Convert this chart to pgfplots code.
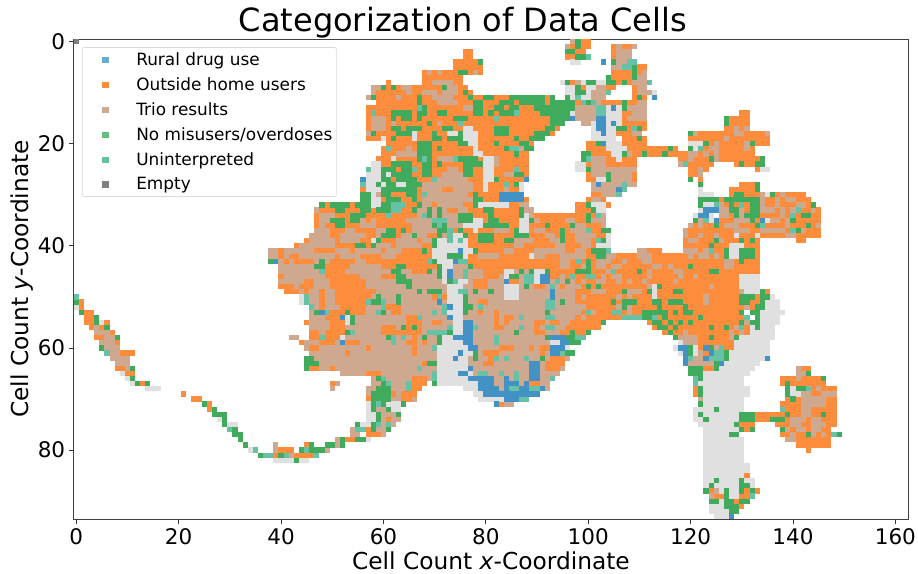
\documentclass[border=0pt]{standalone}
\usepackage{pgfplots}
\usepackage{fontspec}
\setmainfont{DejaVu Sans}
\pgfplotsset{compat=1.18}
\definecolor{cblue}{HTML}{4292C6}
\definecolor{corange}{HTML}{FD8D3C}
\definecolor{ctan}{HTML}{CFA98F}
\definecolor{cgreen}{HTML}{41AB5D}
\definecolor{cteal}{HTML}{66C2A4}
\definecolor{cgray}{HTML}{E0E0E0}
\definecolor{cdark}{HTML}{808080}
% each entry: row, first cell, last cell of a run, category
% 0 gray, 1 blue, 2 orange, 3 tan, 4 green, 5 teal, 6 dark, 7 tan underlay
\def\cells{%
0 0 0 6\\ 0 97 100 2\\ 0 97 97 3\\ 0 98 98 4\\
1 96 100 2\\ 1 96 96 3\\ 1 98 98 4\\ 1 105 108 2\\ 1 106 106 3\\ 1 109 109 3\\
2 96 99 2\\ 2 96 97 4\\ 2 76 77 2\\ 2 105 105 2\\ 2 106 108 3\\
3 96 100 2\\ 3 98 99 4\\ 3 100 100 5\\ 3 76 77 2\\ 3 105 105 2\\ 3 106 108 3\\
4 97 98 0\\ 4 74 79 2\\ 4 79 79 4\\ 4 103 103 1\\ 4 105 105 4\\ 4 106 107 3\\ 4 108 109 5\\
5 74 79 2\\ 5 105 106 3\\ 5 107 108 5\\ 5 109 109 4\\ 5 110 111 2\\
6 68 79 2\\ 6 69 69 3\\ 6 71 71 3\\ 6 78 78 3\\ 6 75 76 4\\ 6 105 108 2\\ 6 109 109 4\\ 6 110 110 2\\ 6 111 111 3\\
7 68 75 2\\ 7 104 104 4\\ 7 105 108 2\\ 7 109 109 4\\ 7 110 111 3\\
8 68 75 2\\ 8 70 73 3\\ 8 61 61 2\\ 8 95 95 0\\ 8 96 96 4\\ 8 97 97 2\\ 8 98 98 3\\ 8 99 99 0\\ 8 100 101 4\\ 8 102 103 0\\ 8 104 105 4\\ 8 106 108 2\\ 8 107 107 4\\ 8 109 111 3\\ 8 112 112 5\\
9 58 76 2\\ 9 58 59 3\\ 9 60 60 4\\ 9 62 62 4\\ 9 64 65 3\\ 9 72 72 4\\ 9 73 74 3\\ 9 96 98 0\\ 9 98 98 4\\ 9 99 99 2\\ 9 100 101 0\\ 9 102 103 3\\ 9 104 105 2\\ 9 109 109 2\\ 9 110 111 3\\
10 58 77 2\\ 10 58 58 3\\ 10 65 65 3\\ 10 68 70 3\\ 10 72 74 3\\ 10 76 76 4\\ 10 96 97 0\\ 10 98 99 4\\ 10 100 100 0\\ 10 101 103 3\\ 10 104 104 5\\ 10 109 109 2\\ 10 110 112 3\\ 10 113 113 0\\
11 57 93 2\\ 11 57 57 3\\ 11 58 58 4\\ 11 63 63 3\\ 11 67 67 4\\ 11 70 73 3\\ 11 77 77 4\\ 11 80 81 4\\ 11 85 91 4\\ 11 93 93 4\\ 11 96 97 0\\ 11 96 96 4\\ 11 98 98 5\\ 11 99 100 0\\ 11 101 103 3\\ 11 109 110 2\\ 11 110 110 4\\ 11 111 111 2\\ 11 113 113 1\\
12 59 96 2\\ 12 67 67 4\\ 12 71 74 3\\ 12 78 79 4\\ 12 83 85 4\\ 12 87 91 4\\ 12 93 95 4\\ 12 96 97 4\\ 12 98 99 2\\ 12 99 99 5\\ 12 100 100 4\\ 12 101 101 5\\ 12 102 102 3\\ 12 103 111 2\\ 12 107 107 4\\ 12 110 111 3\\
13 57 97 2\\ 13 67 67 5\\ 13 68 68 4\\ 13 76 77 3\\ 13 78 79 4\\ 13 82 83 4\\ 13 85 86 4\\ 13 90 92 4\\ 13 93 97 4\\ 13 98 101 3\\ 13 102 103 5\\ 13 104 105 0\\ 13 105 105 1\\ 13 106 106 0\\ 13 107 107 4\\ 13 108 111 3\\
14 57 96 2\\ 14 58 58 5\\ 14 62 65 4\\ 14 67 68 4\\ 14 71 72 4\\ 14 78 79 4\\ 14 81 81 4\\ 14 83 86 4\\ 14 86 86 5\\ 14 91 96 4\\ 14 97 97 0\\ 14 98 101 3\\ 14 102 103 5\\ 14 104 106 0\\ 14 107 108 2\\ 14 109 111 3\\ 14 130 131 2\\
15 57 96 2\\ 15 58 60 3\\ 15 62 62 4\\ 15 64 65 4\\ 15 67 67 4\\ 15 74 76 4\\ 15 82 82 5\\ 15 93 96 4\\ 15 97 97 1\\ 15 98 101 3\\ 15 102 103 1\\ 15 104 106 0\\ 15 107 107 2\\ 15 108 111 3\\ 15 127 131 2\\ 15 127 127 4\\
16 57 95 2\\ 16 58 60 3\\ 16 62 62 3\\ 16 69 69 4\\ 16 71 71 3\\ 16 75 75 5\\ 16 93 95 4\\ 16 99 100 3\\ 16 101 101 0\\ 16 102 103 1\\ 16 104 104 0\\ 16 105 105 1\\ 16 106 106 0\\ 16 107 111 2\\ 16 127 131 2\\ 16 127 127 4\\
17 57 94 2\\ 17 58 60 3\\ 17 62 63 4\\ 17 65 67 4\\ 17 72 73 4\\ 17 76 77 0\\ 17 82 84 4\\ 17 92 93 4\\ 17 101 101 0\\ 17 102 103 1\\ 17 104 105 0\\ 17 106 107 4\\ 17 108 111 2\\ 17 109 109 5\\ 17 110 110 4\\ 17 127 131 2\\ 17 129 129 3\\ 17 131 131 3\\
18 57 93 2\\ 18 57 57 3\\ 18 58 58 4\\ 18 63 65 4\\ 18 66 66 0\\ 18 70 70 4\\ 18 73 74 0\\ 18 75 75 4\\ 18 76 78 0\\ 18 82 84 4\\ 18 90 92 4\\ 18 101 102 0\\ 18 103 103 1\\ 18 104 105 0\\ 18 106 110 2\\ 18 109 110 3\\ 18 120 135 2\\ 18 120 120 4\\ 18 121 121 3\\ 18 129 130 3\\ 18 135 135 3\\
19 57 90 2\\ 19 60 60 0\\ 19 62 62 4\\ 19 66 66 0\\ 19 70 71 4\\ 19 73 75 4\\ 19 76 78 0\\ 19 86 86 4\\ 19 89 91 4\\ 19 101 102 0\\ 19 103 105 0\\ 19 107 111 2\\ 19 110 110 4\\ 19 120 135 2\\ 19 127 127 3\\
20 61 89 2\\ 20 67 69 4\\ 20 75 76 4\\ 20 77 78 0\\ 20 82 82 4\\ 20 87 88 4\\ 20 100 101 2\\ 20 102 102 4\\ 20 103 103 1\\ 20 104 106 0\\ 20 107 111 2\\ 20 120 122 0\\ 20 123 135 2\\ 20 123 123 4\\ 20 125 125 3\\ 20 131 131 3\\ 20 132 132 4\\
21 60 88 2\\ 21 61 61 5\\ 21 65 65 3\\ 21 67 69 4\\ 21 71 71 4\\ 21 78 78 0\\ 21 84 84 4\\ 21 85 86 5\\ 21 87 87 3\\ 21 88 89 4\\ 21 100 103 2\\ 21 104 107 0\\ 21 108 117 2\\ 21 116 116 4\\ 21 120 120 4\\ 21 121 121 0\\ 21 122 122 5\\ 21 123 132 2\\ 21 124 125 3\\ 21 131 131 3\\
22 60 88 2\\ 22 63 66 3\\ 22 67 69 4\\ 22 78 79 0\\ 22 86 86 4\\ 22 99 100 4\\ 22 101 104 2\\ 22 105 106 0\\ 22 107 107 4\\ 22 108 108 3\\ 22 109 119 2\\ 22 111 111 4\\ 22 115 115 4\\ 22 120 121 3\\ 22 122 132 2\\ 22 123 123 3\\ 22 125 125 3\\
23 59 88 2\\ 23 62 62 0\\ 23 67 67 4\\ 23 68 68 5\\ 23 69 69 4\\ 23 71 73 3\\ 23 74 74 5\\ 23 75 78 4\\ 23 80 81 0\\ 23 82 82 3\\ 23 99 99 4\\ 23 100 100 5\\ 23 101 103 3\\ 23 104 105 2\\ 23 106 106 0\\ 23 107 109 2\\ 23 118 119 2\\ 23 120 120 3\\ 23 121 134 2\\ 23 124 124 4\\ 23 125 125 3\\ 23 134 134 4\\
24 58 88 2\\ 24 58 59 0\\ 24 62 65 4\\ 24 68 69 4\\ 24 71 71 4\\ 24 76 79 4\\ 24 80 81 0\\ 24 82 82 3\\ 24 98 99 0\\ 24 100 100 2\\ 24 101 103 3\\ 24 104 109 2\\ 24 118 118 3\\ 24 119 119 5\\ 24 120 124 2\\ 24 129 134 2\\ 24 130 130 4\\ 24 133 134 4\\
25 57 88 2\\ 25 57 57 5\\ 25 58 59 0\\ 25 60 62 4\\ 25 64 66 4\\ 25 66 66 5\\ 25 68 69 4\\ 25 73 74 3\\ 25 76 77 4\\ 25 80 81 0\\ 25 86 86 5\\ 25 98 99 0\\ 25 100 100 4\\ 25 101 109 3\\ 25 120 123 2\\ 25 122 122 3\\ 25 133 133 2\\ 25 134 135 0\\
26 57 88 2\\ 26 57 59 0\\ 26 60 60 4\\ 26 61 61 0\\ 26 62 65 4\\ 26 68 69 4\\ 26 72 75 3\\ 26 76 77 4\\ 26 80 81 0\\ 26 84 85 3\\ 26 86 87 4\\ 26 100 109 2\\ 26 101 103 3\\ 26 104 104 4\\ 26 105 108 3\\ 26 120 122 2\\ 26 122 122 3\\
27 56 56 1\\ 27 57 59 0\\ 27 60 88 2\\ 27 60 61 4\\ 27 63 66 4\\ 27 70 70 5\\ 27 71 76 3\\ 27 80 81 0\\ 27 82 82 4\\ 27 88 88 1\\ 27 100 109 2\\ 27 102 104 0\\ 27 104 104 4\\ 27 105 108 3\\ 27 120 120 4\\ 27 122 122 2\\
28 56 56 5\\ 28 57 58 0\\ 28 59 87 2\\ 28 59 59 4\\ 28 60 60 0\\ 28 61 62 4\\ 28 63 64 0\\ 28 65 67 4\\ 28 68 77 3\\ 28 80 80 0\\ 28 84 84 5\\ 28 86 86 4\\ 28 87 87 0\\ 28 101 109 3\\ 28 102 102 1\\ 28 103 106 0\\ 28 107 107 5\\ 28 122 122 4\\ 28 130 133 2\\ 28 133 133 4\\
29 56 87 2\\ 29 57 59 0\\ 29 60 66 4\\ 29 68 71 3\\ 29 74 77 3\\ 29 80 80 0\\ 29 84 84 3\\ 29 87 87 0\\ 29 101 105 3\\ 29 104 105 0\\ 29 106 106 1\\ 29 107 107 5\\ 29 122 122 0\\ 29 128 133 2\\ 29 133 133 4\\
30 56 87 2\\ 30 56 57 4\\ 30 58 58 0\\ 30 59 59 3\\ 30 60 61 4\\ 30 65 66 4\\ 30 68 68 5\\ 30 69 76 3\\ 30 78 78 4\\ 30 83 87 1\\ 30 101 105 2\\ 30 103 105 3\\ 30 106 106 5\\ 30 122 124 0\\ 30 128 142 2\\ 30 129 130 4\\ 30 134 134 3\\ 30 135 135 0\\ 30 136 136 4\\ 30 138 138 3\\
31 56 88 2\\ 31 56 57 4\\ 31 58 59 0\\ 31 61 63 4\\ 31 66 66 4\\ 31 68 77 3\\ 31 78 79 4\\ 31 83 87 1\\ 31 100 103 2\\ 31 101 102 3\\ 31 122 125 4\\ 31 126 143 2\\ 31 127 133 4\\ 31 134 134 3\\ 31 137 137 3\\ 31 139 140 3\\
32 48 88 2\\ 32 48 48 4\\ 32 50 53 4\\ 32 55 57 4\\ 32 58 59 0\\ 32 60 61 4\\ 32 62 64 5\\ 32 67 67 4\\ 32 68 69 3\\ 32 71 75 3\\ 32 78 78 4\\ 32 79 82 0\\ 32 83 84 0\\ 32 87 88 3\\ 32 98 104 2\\ 32 100 100 4\\ 32 101 103 0\\ 32 122 122 4\\ 32 123 124 0\\ 32 125 125 5\\ 32 126 126 3\\ 32 127 144 2\\ 32 128 128 4\\ 32 130 130 5\\ 32 132 133 4\\ 32 134 134 3\\ 32 137 137 3\\ 32 141 142 3\\ 32 144 144 4\\
33 47 89 2\\ 33 47 47 3\\ 33 51 52 4\\ 33 56 57 4\\ 33 59 61 4\\ 33 62 63 5\\ 33 66 66 4\\ 33 67 68 3\\ 33 69 69 4\\ 33 70 70 3\\ 33 71 71 4\\ 33 72 72 3\\ 33 75 76 3\\ 33 80 81 4\\ 33 87 87 4\\ 33 87 88 0\\ 33 88 89 3\\ 33 98 103 2\\ 33 101 101 4\\ 33 102 103 0\\ 33 122 123 0\\ 33 123 125 1\\ 33 126 127 3\\ 33 128 145 2\\ 33 128 129 4\\ 33 130 130 3\\ 33 132 133 4\\ 33 134 136 3\\ 33 138 138 3\\ 33 140 140 3\\ 33 141 141 5\\ 33 144 144 3\\
34 47 103 2\\ 34 48 50 3\\ 34 54 56 4\\ 34 61 61 5\\ 34 67 68 3\\ 34 68 68 5\\ 34 69 69 4\\ 34 70 70 3\\ 34 71 71 4\\ 34 72 74 3\\ 34 75 77 4\\ 34 81 81 4\\ 34 87 87 4\\ 34 88 88 0\\ 34 89 89 3\\ 34 100 100 4\\ 34 102 102 5\\ 34 103 103 3\\ 34 121 122 0\\ 34 122 123 1\\ 34 124 124 0\\ 34 126 127 3\\ 34 128 145 2\\ 34 129 129 4\\ 34 130 130 3\\ 34 131 133 4\\ 34 138 138 3\\ 34 140 140 5\\ 34 142 143 4\\
35 47 103 2\\ 35 48 49 3\\ 35 50 52 4\\ 35 54 55 4\\ 35 56 56 3\\ 35 58 58 3\\ 35 65 69 3\\ 35 70 72 5\\ 35 73 74 3\\ 35 75 77 4\\ 35 78 79 0\\ 35 81 82 4\\ 35 87 88 0\\ 35 89 89 4\\ 35 90 90 3\\ 35 96 97 3\\ 35 100 100 4\\ 35 101 103 3\\ 35 121 121 4\\ 35 122 122 3\\ 35 123 123 5\\ 35 124 124 0\\ 35 125 125 1\\ 35 126 145 2\\ 35 129 131 3\\ 35 132 132 4\\ 35 134 134 1\\ 35 135 135 0\\ 35 136 137 3\\ 35 139 139 3\\ 35 140 140 4\\
36 47 103 2\\ 36 48 48 3\\ 36 51 52 4\\ 36 56 58 3\\ 36 66 69 3\\ 36 70 70 4\\ 36 71 71 5\\ 36 72 72 4\\ 36 73 75 3\\ 36 76 79 0\\ 36 80 84 4\\ 36 87 88 0\\ 36 92 92 4\\ 36 97 97 4\\ 36 98 99 3\\ 36 103 103 3\\ 36 120 120 3\\ 36 121 145 2\\ 36 122 122 3\\ 36 125 125 4\\ 36 127 127 3\\ 36 128 129 3\\ 36 133 133 4\\ 36 134 134 5\\ 36 139 139 3\\ 36 143 143 4\\ 36 145 145 3\\
37 47 104 2\\ 37 47 49 3\\ 37 53 54 3\\ 37 59 60 3\\ 37 61 62 4\\ 37 64 64 4\\ 37 66 70 3\\ 37 71 72 4\\ 37 73 73 5\\ 37 75 75 4\\ 37 78 78 0\\ 37 82 84 3\\ 37 86 86 4\\ 37 87 88 0\\ 37 90 91 3\\ 37 95 95 4\\ 37 97 99 3\\ 37 100 100 5\\ 37 103 104 4\\ 37 119 119 3\\ 37 120 145 2\\ 37 129 131 3\\ 37 134 138 3\\ 37 140 140 5\\ 37 141 141 4\\ 37 142 142 3\\
38 46 104 2\\ 38 46 49 3\\ 38 52 56 3\\ 38 59 59 3\\ 38 60 62 4\\ 38 64 65 3\\ 38 66 66 4\\ 38 67 68 3\\ 38 71 71 4\\ 38 72 72 3\\ 38 73 73 5\\ 38 74 75 0\\ 38 76 76 4\\ 38 79 81 4\\ 38 86 88 4\\ 38 92 93 3\\ 38 95 95 4\\ 38 98 101 3\\ 38 104 104 0\\ 38 119 119 3\\ 38 120 133 2\\ 38 122 122 3\\ 38 125 125 3\\ 38 129 129 0\\ 38 133 133 0\\ 38 134 145 2\\ 38 139 140 3\\
39 45 104 2\\ 39 46 50 3\\ 39 52 55 3\\ 39 58 58 0\\ 39 59 59 4\\ 39 63 66 3\\ 39 68 69 3\\ 39 70 70 4\\ 39 71 76 0\\ 39 73 73 5\\ 39 75 75 5\\ 39 79 81 4\\ 39 84 85 4\\ 39 86 89 3\\ 39 93 94 3\\ 39 95 95 4\\ 39 98 100 3\\ 39 102 102 5\\ 39 103 103 4\\ 39 104 104 0\\ 39 119 133 2\\ 39 120 121 3\\ 39 125 125 4\\ 39 126 126 3\\ 39 130 130 4\\ 39 132 132 4\\ 39 141 142 2\\
40 43 104 2\\ 40 44 50 3\\ 40 55 56 4\\ 40 58 58 4\\ 40 59 61 3\\ 40 63 67 3\\ 40 70 70 4\\ 40 71 76 0\\ 40 86 87 3\\ 40 94 95 3\\ 40 99 100 3\\ 40 102 104 0\\ 40 119 133 2\\ 40 124 124 4\\ 40 128 130 0\\
41 38 104 2\\ 41 38 39 3\\ 41 41 46 3\\ 41 51 53 3\\ 41 55 59 3\\ 41 61 63 3\\ 41 68 68 4\\ 41 70 74 0\\ 41 75 75 1\\ 41 76 77 0\\ 41 78 78 4\\ 41 84 85 3\\ 41 90 95 3\\ 41 98 99 3\\ 41 101 103 4\\ 41 104 104 5\\ 41 110 111 3\\ 41 112 114 2\\ 41 119 133 2\\ 41 119 121 3\\ 41 123 123 3\\ 41 124 124 5\\ 41 127 127 4\\ 41 128 129 0\\ 41 130 132 4\\
42 38 133 2\\ 42 38 39 3\\ 42 41 41 3\\ 42 44 50 3\\ 42 52 55 3\\ 42 60 62 3\\ 42 70 72 0\\ 42 73 75 4\\ 42 76 76 0\\ 42 79 82 3\\ 42 89 89 0\\ 42 90 91 3\\ 42 95 99 3\\ 42 102 103 4\\ 42 104 105 3\\ 42 110 112 3\\ 42 120 120 3\\ 42 122 123 3\\ 42 125 125 3\\ 42 127 127 4\\ 42 128 129 0\\ 42 130 132 4\\
43 38 38 4\\ 43 39 39 1\\ 43 40 133 7\\ 43 41 41 2\\ 43 43 46 2\\ 43 48 48 4\\ 43 50 54 2\\ 43 57 68 2\\ 43 69 69 5\\ 43 70 70 4\\ 43 71 73 0\\ 43 74 74 1\\ 43 75 76 5\\ 43 77 94 2\\ 43 95 96 3\\ 43 97 133 2\\ 43 98 98 5\\ 43 100 100 4\\ 43 102 104 3\\ 43 107 107 3\\ 43 111 112 3\\ 43 127 128 3\\ 43 130 130 4\\
44 40 133 7\\ 44 47 48 4\\ 44 49 53 2\\ 44 60 63 2\\ 44 63 64 4\\ 44 65 70 2\\ 44 71 71 4\\ 44 72 73 0\\ 44 77 77 4\\ 44 78 94 2\\ 44 97 133 2\\ 44 99 99 3\\ 44 100 100 4\\ 44 102 103 3\\ 44 105 106 3\\ 44 113 114 3\\ 44 116 116 3\\ 44 120 120 4\\ 44 127 128 3\\
45 40 133 7\\ 45 48 48 5\\ 45 49 52 2\\ 45 62 63 4\\ 45 66 68 2\\ 45 69 69 4\\ 45 71 71 4\\ 45 72 72 0\\ 45 73 73 1\\ 45 76 76 5\\ 45 80 83 2\\ 45 84 85 0\\ 45 87 87 4\\ 45 89 89 4\\ 45 90 91 0\\ 45 92 92 4\\ 45 93 96 2\\ 45 97 133 2\\ 45 98 100 4\\ 45 104 104 3\\ 45 105 105 5\\ 45 110 110 4\\ 45 112 112 3\\ 45 117 118 3\\ 45 124 125 4\\
46 40 40 2\\ 46 41 133 7\\ 46 49 55 2\\ 46 60 63 2\\ 46 63 64 4\\ 46 71 71 4\\ 46 72 72 0\\ 46 73 73 1\\ 46 76 76 5\\ 46 80 82 2\\ 46 84 85 0\\ 46 85 86 4\\ 46 88 89 5\\ 46 90 90 0\\ 46 91 92 1\\ 46 93 94 2\\ 46 95 95 3\\ 46 96 133 2\\ 46 97 97 5\\ 46 100 101 5\\ 46 103 103 3\\ 46 105 106 3\\ 46 112 112 3\\ 46 118 118 3\\ 46 121 121 3\\ 46 130 133 0\\
47 40 133 7\\ 47 45 46 2\\ 47 50 56 2\\ 47 63 65 4\\ 47 72 72 0\\ 47 73 73 4\\ 47 74 74 5\\ 47 75 76 0\\ 47 78 80 2\\ 47 84 84 1\\ 47 85 86 2\\ 47 88 89 5\\ 47 90 90 0\\ 47 91 92 1\\ 47 94 94 5\\ 47 96 96 4\\ 47 97 129 2\\ 47 97 97 3\\ 47 99 99 3\\ 47 102 103 3\\ 47 106 106 3\\ 47 108 108 3\\ 47 111 111 3\\ 47 117 117 3\\ 47 130 133 0\\
48 40 42 2\\ 48 43 133 7\\ 48 44 46 2\\ 48 50 56 2\\ 48 65 65 4\\ 48 73 75 0\\ 48 78 80 2\\ 48 84 86 0\\ 48 88 88 4\\ 48 90 91 2\\ 48 93 93 5\\ 48 95 95 2\\ 48 96 129 2\\ 48 96 98 3\\ 48 100 100 4\\ 48 102 102 4\\ 48 112 112 3\\ 48 113 113 0\\ 48 114 114 4\\ 48 124 124 3\\ 48 130 133 0\\
49 41 43 2\\ 49 44 133 7\\ 49 45 45 2\\ 49 48 48 2\\ 49 51 58 2\\ 49 67 67 4\\ 49 69 71 4\\ 49 75 76 5\\ 49 73 74 0\\ 49 78 78 4\\ 49 81 81 4\\ 49 84 86 0\\ 49 93 93 1\\ 49 95 129 2\\ 49 95 97 3\\ 49 101 103 3\\ 49 107 107 4\\ 49 108 110 3\\ 49 112 112 4\\ 49 113 113 0\\ 49 117 118 4\\ 49 130 130 3\\ 49 131 133 0\\ 49 134 134 4\\ 49 135 135 2\\
50 44 44 0\\ 50 45 45 5\\ 50 46 95 7\\ 50 48 48 2\\ 50 51 57 2\\ 50 59 59 4\\ 50 63 63 4\\ 50 70 72 2\\ 50 71 71 5\\ 50 73 75 0\\ 50 76 76 4\\ 50 84 86 0\\ 50 93 93 1\\ 50 95 133 2\\ 50 95 97 3\\ 50 99 99 3\\ 50 106 106 3\\ 50 108 108 3\\ 50 113 113 0\\ 50 123 123 3\\ 50 130 132 4\\ 50 134 135 4\\ 50 136 136 0\\
51 44 44 0\\ 51 45 45 5\\ 51 46 95 7\\ 51 48 48 2\\ 51 51 58 2\\ 51 57 57 5\\ 51 58 59 4\\ 51 60 60 5\\ 51 63 63 4\\ 51 71 71 1\\ 51 73 75 0\\ 51 76 76 4\\ 51 79 80 2\\ 51 92 93 5\\ 51 95 133 2\\ 51 95 95 4\\ 51 96 97 3\\ 51 105 105 4\\ 51 107 109 4\\ 51 113 114 4\\ 51 116 118 4\\ 51 123 123 3\\ 51 130 131 4\\ 51 134 134 4\\ 51 135 137 0\\
52 46 46 5\\ 52 47 95 7\\ 52 48 48 2\\ 52 52 56 2\\ 52 60 60 5\\ 52 61 63 2\\ 52 72 72 5\\ 52 73 73 1\\ 52 74 75 0\\ 52 76 77 4\\ 52 79 79 5\\ 52 92 93 5\\ 52 95 133 2\\ 52 95 99 3\\ 52 106 106 3\\ 52 107 107 4\\ 52 108 108 3\\ 52 114 114 4\\ 52 119 119 4\\ 52 131 131 3\\ 52 133 134 4\\ 52 135 137 0\\
53 46 46 7\\ 53 47 47 4\\ 53 48 48 1\\ 53 49 49 5\\ 53 50 95 7\\ 53 50 52 2\\ 53 53 53 4\\ 53 54 56 2\\ 53 59 59 5\\ 53 60 60 4\\ 53 62 63 2\\ 53 70 70 5\\ 53 72 72 5\\ 53 73 75 0\\ 53 76 76 4\\ 53 79 79 2\\ 53 82 82 2\\ 53 92 92 4\\ 53 96 130 2\\ 53 96 98 3\\ 53 100 100 5\\ 53 101 101 3\\ 53 105 106 5\\ 53 108 108 3\\ 53 111 113 4\\ 53 114 115 4\\ 53 117 117 4\\ 53 119 120 4\\ 53 130 130 4\\ 53 132 133 4\\ 53 134 138 0\\
54 46 95 7\\ 54 49 51 2\\ 54 52 52 1\\ 54 53 53 0\\ 54 54 54 4\\ 54 65 67 2\\ 54 67 67 5\\ 54 73 73 1\\ 54 74 75 0\\ 54 82 82 2\\ 54 84 85 2\\ 54 87 87 5\\ 54 92 93 5\\ 54 95 130 2\\ 54 95 97 3\\ 54 99 99 3\\ 54 107 110 5\\ 54 111 112 4\\ 54 113 113 5\\ 54 115 115 4\\ 54 122 122 4\\ 54 131 131 5\\ 54 133 133 4\\ 54 134 137 0\\
55 45 45 2\\ 55 46 95 7\\ 55 50 52 2\\ 55 53 53 0\\ 55 54 54 4\\ 55 65 67 2\\ 55 70 71 2\\ 55 74 75 0\\ 55 76 77 1\\ 55 82 82 2\\ 55 84 84 2\\ 55 90 91 2\\ 55 93 94 2\\ 55 95 103 2\\ 55 95 96 3\\ 55 103 103 4\\ 55 112 130 2\\ 55 113 114 4\\ 55 116 116 4\\ 55 118 118 4\\ 55 120 120 4\\ 55 130 130 4\\ 55 131 131 3\\ 55 132 133 4\\ 55 134 137 0\\
56 46 95 7\\ 56 50 52 2\\ 56 60 62 2\\ 56 64 64 4\\ 56 65 66 2\\ 56 66 66 4\\ 56 67 67 2\\ 56 73 73 5\\ 56 74 75 0\\ 56 76 77 1\\ 56 78 78 5\\ 56 82 83 2\\ 56 87 87 5\\ 56 90 90 2\\ 56 92 93 5\\ 56 96 102 2\\ 56 113 131 2\\ 56 114 115 4\\ 56 117 117 4\\ 56 124 124 4\\ 56 127 127 4\\ 56 129 129 3\\ 56 130 130 5\\ 56 133 133 4\\ 56 132 136 0\\
57 46 47 2\\ 57 48 95 7\\ 57 49 52 2\\ 57 53 53 4\\ 57 54 54 5\\ 57 60 64 2\\ 57 65 67 2\\ 57 69 72 5\\ 57 73 73 4\\ 57 74 75 0\\ 57 76 77 1\\ 57 86 86 4\\ 57 90 91 2\\ 57 95 100 2\\ 57 97 97 4\\ 57 100 100 4\\ 57 115 131 2\\ 57 116 116 4\\ 57 119 119 3\\ 57 128 128 3\\ 57 130 130 3\\ 57 132 136 0\\
58 42 43 3\\ 58 46 47 2\\ 58 48 48 5\\ 58 46 92 7\\ 58 49 51 2\\ 58 52 52 0\\ 58 61 61 4\\ 58 62 62 5\\ 58 64 64 5\\ 58 66 66 2\\ 58 68 68 4\\ 58 71 71 4\\ 58 72 73 0\\ 58 74 77 1\\ 58 82 82 5\\ 58 92 93 4\\ 58 93 95 1\\ 58 96 97 4\\ 58 98 99 5\\ 58 117 117 4\\ 58 118 121 3\\ 58 122 127 2\\ 58 124 124 4\\ 58 128 128 3\\ 58 129 129 4\\ 58 130 136 0\\
59 44 44 2\\ 59 45 93 7\\ 59 48 50 2\\ 59 52 52 1\\ 59 53 55 2\\ 59 62 62 5\\ 59 65 66 2\\ 59 68 68 2\\ 59 71 71 4\\ 59 72 75 0\\ 59 76 77 1\\ 59 82 82 5\\ 59 93 94 0\\ 59 95 96 1\\ 59 97 98 4\\ 59 118 118 0\\ 59 119 121 3\\ 59 122 128 2\\ 59 129 135 0\\
60 45 92 7\\ 60 46 47 2\\ 60 57 57 2\\ 60 66 66 2\\ 60 70 70 5\\ 60 71 75 0\\ 60 76 76 0\\ 60 77 78 1\\ 60 83 85 2\\ 60 89 89 2\\ 60 91 92 2\\ 60 93 95 1\\ 60 96 96 0\\ 60 117 118 0\\ 60 118 119 1\\ 60 120 120 4\\ 60 121 121 0\\ 60 122 122 2\\ 60 123 123 1\\ 60 124 124 4\\ 60 125 125 3\\ 60 126 126 5\\ 60 127 128 2\\ 60 129 135 0\\
61 46 92 7\\ 61 53 53 2\\ 61 66 66 2\\ 61 71 75 0\\ 61 75 75 1\\ 61 76 77 0\\ 61 78 78 4\\ 61 80 82 2\\ 61 91 91 2\\ 61 93 94 1\\ 61 95 95 5\\ 61 96 97 4\\ 61 118 118 0\\ 61 119 119 1\\ 61 120 120 4\\ 61 121 121 0\\ 61 122 122 3\\ 61 123 123 2\\ 61 124 124 1\\ 61 125 126 5\\ 61 127 127 4\\ 61 128 135 0\\
62 45 46 4\\ 62 47 93 7\\ 62 71 74 0\\ 62 74 74 1\\ 62 75 76 0\\ 62 78 78 4\\ 62 81 81 2\\ 62 82 82 5\\ 62 84 84 5\\ 62 88 88 5\\ 62 91 91 4\\ 62 93 96 2\\ 62 95 95 2\\ 62 96 96 3\\ 62 119 119 1\\ 62 120 120 5\\ 62 121 121 3\\ 62 122 122 3\\ 62 123 123 1\\ 62 124 126 5\\ 62 127 127 4\\ 62 128 134 0\\ 62 135 135 1\\
63 45 47 4\\ 63 48 92 7\\ 63 68 68 2\\ 63 69 70 4\\ 63 71 76 0\\ 63 80 81 2\\ 63 89 90 1\\ 63 92 95 2\\ 63 119 119 1\\ 63 120 124 3\\ 63 125 125 4\\ 63 126 126 1\\ 63 127 133 0\\
64 45 45 4\\ 64 46 47 2\\ 64 48 92 7\\ 64 50 50 2\\ 64 67 67 5\\ 64 71 76 0\\ 64 77 77 1\\ 64 89 90 1\\ 64 92 94 2\\ 64 95 95 3\\ 64 120 122 4\\ 64 121 121 2\\ 64 123 124 2\\ 64 125 125 4\\ 64 126 132 0\\ 64 141 141 3\\ 64 142 143 2\\
65 52 94 7\\ 65 57 59 2\\ 65 70 70 5\\ 65 71 75 0\\ 65 75 76 1\\ 65 77 77 0\\ 65 79 80 5\\ 65 83 83 5\\ 65 86 86 5\\ 65 89 90 1\\ 65 120 122 4\\ 65 123 131 0\\ 65 141 142 3\\ 65 143 143 4\\
66 58 93 7\\ 66 59 59 4\\ 66 60 60 5\\ 66 66 68 2\\ 66 70 70 5\\ 66 71 76 0\\ 66 77 81 1\\ 66 84 84 1\\ 66 86 86 5\\ 66 89 90 1\\ 66 93 93 5\\ 66 121 121 5\\ 66 122 122 4\\ 66 123 130 0\\ 66 138 145 2\\ 66 141 141 3\\ 66 146 146 4\\
67 50 50 2\\ 67 51 51 3\\ 67 58 68 7\\ 67 60 60 4\\ 67 61 61 5\\ 67 65 65 5\\ 67 66 68 2\\ 67 70 70 4\\ 67 71 78 0\\ 67 79 92 7\\ 67 79 81 1\\ 67 84 85 1\\ 67 85 85 5\\ 67 86 86 1\\ 67 88 88 1\\ 67 89 90 2\\ 67 121 121 5\\ 67 122 130 0\\ 67 138 146 2\\ 67 139 139 4\\
68 50 50 3\\ 68 57 67 7\\ 68 59 61 4\\ 68 65 65 5\\ 68 66 67 2\\ 68 76 78 0\\ 68 79 82 1\\ 68 83 92 7\\ 68 84 84 1\\ 68 85 87 5\\ 68 87 88 1\\ 68 89 90 5\\ 68 91 91 1\\ 68 121 121 2\\ 68 122 122 4\\ 68 123 131 0\\ 68 139 148 2\\ 68 139 139 4\\ 68 140 140 0\\ 68 141 142 4\\ 68 143 143 5\\ 68 145 145 3\\
69 57 66 7\\ 69 58 61 4\\ 69 62 62 2\\ 69 64 66 2\\ 69 78 79 0\\ 69 80 90 1\\ 69 82 83 7\\ 69 121 121 2\\ 69 122 122 4\\ 69 123 131 0\\ 69 139 139 4\\ 69 140 141 0\\ 69 142 143 3\\ 69 144 145 2\\ 69 146 148 3\\
70 57 57 2\\ 70 58 61 4\\ 70 62 66 7\\ 70 64 65 2\\ 70 79 83 0\\ 70 84 86 1\\ 70 87 88 5\\ 70 122 122 3\\ 70 123 130 0\\ 70 139 139 2\\ 70 140 140 4\\ 70 141 141 2\\ 70 142 146 3\\ 70 147 148 2\\
71 57 57 0\\ 71 58 58 4\\ 71 59 59 5\\ 71 60 60 4\\ 71 61 63 0\\ 71 64 64 4\\ 71 82 82 1\\ 71 83 83 2\\ 71 84 85 3\\ 71 122 122 4\\ 71 123 130 0\\ 71 138 141 2\\ 71 142 146 3\\ 71 147 148 2\\
72 57 57 0\\ 72 58 58 4\\ 72 59 60 3\\ 72 61 61 4\\ 72 62 63 0\\ 72 121 130 0\\ 72 125 125 4\\ 72 138 138 5\\ 72 139 141 2\\ 72 142 143 3\\ 72 144 148 2\\
73 57 58 0\\ 73 59 59 4\\ 73 60 62 3\\ 73 63 63 4\\ 73 121 131 0\\ 73 122 122 4\\ 73 130 131 4\\ 73 132 132 4\\ 73 133 137 2\\ 73 138 138 2\\ 73 139 139 4\\ 73 140 141 2\\ 73 142 143 3\\ 73 144 145 2\\ 73 146 146 4\\ 73 147 148 2\\
74 57 58 0\\ 74 59 59 4\\ 74 60 60 3\\ 74 61 61 2\\ 74 62 63 3\\ 74 121 129 0\\ 74 123 123 4\\ 74 130 132 4\\ 74 133 135 2\\ 74 136 138 4\\ 74 139 139 2\\ 74 140 142 3\\ 74 143 143 2\\ 74 144 145 3\\ 74 146 148 2\\
75 55 55 4\\ 75 56 57 0\\ 75 58 58 4\\ 75 59 59 5\\ 75 60 60 3\\ 75 61 61 5\\ 75 62 62 3\\ 75 122 128 0\\ 75 129 129 4\\ 75 130 132 2\\ 75 137 139 2\\ 75 140 141 3\\ 75 142 143 2\\ 75 144 146 3\\ 75 147 148 2\\
76 54 54 3\\ 76 55 56 5\\ 76 57 57 2\\ 76 58 58 4\\ 76 59 60 3\\ 76 61 61 4\\ 76 123 129 0\\ 76 130 130 4\\ 76 131 131 2\\ 76 132 132 4\\ 76 138 138 4\\ 76 139 139 3\\ 76 140 140 2\\ 76 141 142 3\\ 76 143 143 2\\ 76 144 145 3\\ 76 146 147 2\\
77 54 55 3\\ 77 57 59 2\\ 77 60 60 3\\ 77 123 127 0\\ 77 128 129 4\\ 77 138 139 2\\ 77 140 140 3\\ 77 141 142 2\\ 77 143 143 4\\ 77 144 144 3\\ 77 145 145 2\\ 77 146 146 3\\ 77 147 147 2\\ 77 148 148 5\\ 77 149 149 4\\
78 52 52 4\\ 78 51 51 3\\ 78 53 54 2\\ 78 55 56 4\\ 78 57 57 0\\ 78 123 130 0\\ 78 139 140 3\\ 78 141 147 2\\
79 33 33 4\\ 79 39 39 3\\ 79 45 45 2\\ 79 46 46 4\\ 79 49 50 4\\ 79 51 51 3\\ 79 52 52 4\\ 79 123 130 0\\ 79 141 147 2\\
80 34 34 0\\ 80 35 35 5\\ 80 39 39 3\\ 80 40 42 2\\ 80 44 44 4\\ 80 45 45 5\\ 80 46 48 4\\ 80 49 49 3\\ 80 123 130 0\\ 80 143 143 2\\
81 36 36 4\\ 81 37 38 5\\ 81 39 39 2\\ 81 40 40 4\\ 81 41 41 5\\ 81 42 42 3\\ 81 43 46 2\\ 81 47 47 5\\ 81 123 130 0\\
82 39 42 0\\ 82 43 43 4\\ 82 44 45 0\\ 82 123 130 0\\
83 123 131 0\\ 84 123 131 0\\ 85 123 130 0\\ 85 131 131 2\\
86 123 132 0\\ 86 125 125 4\\ 86 130 130 4\\
87 123 132 0\\ 87 124 124 4\\ 87 125 125 2\\ 87 130 131 4\\
88 123 123 4\\ 88 124 124 2\\ 88 125 125 3\\ 88 126 126 0\\ 88 127 127 4\\ 88 128 129 0\\ 88 130 130 4\\ 88 131 131 2\\ 88 132 132 4\\ 88 133 133 2\\
89 124 124 3\\ 89 125 126 2\\ 89 127 127 4\\ 89 128 129 0\\ 89 130 131 2\\ 89 132 132 5\\
90 124 125 4\\ 90 126 126 0\\ 90 127 128 4\\ 90 129 129 2\\ 90 130 131 4\\
91 124 126 0\\ 91 127 129 4\\ 91 130 130 2\\
92 124 127 0\\ 92 128 129 4\\
93 125 127 0\\ 93 128 128 1\\
50 0 0 5\\ 51 0 0 4\\ 51 1 1 2\\ 52 0 0 0\\ 52 1 1 2\\ 53 1 1 4\\ 53 2 3 2\\ 54 2 3 2\\ 54 4 4 4\\ 55 2 3 2\\ 55 4 4 4\\ 55 5 5 0\\ 55 6 6 2\\ 56 3 3 2\\ 56 4 4 3\\ 56 5 5 2\\ 56 6 6 4\\ 57 4 6 3\\ 57 7 7 2\\ 58 4 5 2\\ 58 6 7 3\\ 58 8 8 4\\ 59 5 7 3\\ 59 8 8 2\\ 60 5 5 4\\ 60 6 8 3\\ 61 6 6 5\\ 61 7 8 3\\ 61 9 11 2\\ 62 7 10 3\\ 63 8 10 3\\ 64 8 9 2\\ 64 10 10 3\\ 64 11 11 4\\ 65 9 9 0\\ 65 10 11 2\\ 66 10 10 0\\ 66 11 11 4\\ 67 11 11 0\\ 67 12 12 4\\ 67 13 13 2\\ 67 14 14 4\\ 68 14 16 0\\ 69 21 21 2\\ 70 23 24 2\\ 71 25 25 4\\ 71 26 26 2\\ 72 26 26 2\\ 72 27 27 4\\ 73 27 29 4\\ 74 28 28 0\\ 74 29 29 4\\ 75 29 29 4\\ 75 30 31 0\\ 76 30 30 5\\ 76 31 31 4\\ 77 31 32 4\\ 78 32 32 4\\
}
\newtoks\runs
\def\scan#1 #2 #3 #4\\ {\if @#1\else
  \ifnum#4=\curcat\relax
    \edef\tmp{(#2,#1)(\the\numexpr#3+1\relax,#1)(nan,nan)}%
    \runs=\expandafter\expandafter\expandafter{\expandafter\the\expandafter\runs\tmp}%
  \fi
  \expandafter\scan\fi}
\newcommand{\cellplot}[2]{%
  \def\curcat{#1}\runs={}%
  \expandafter\scan\cells @ x x x\\ \relax
  \edef\tmpplot{\noexpand\addplot[no markers, forget plot, unbounded coords=jump,
      line width=5.25pt, line cap=butt, color=#2,
      x filter/.expression={x-0.5}] coordinates {\the\runs};}%
  \tmpplot}
\begin{document}
\begin{tikzpicture}[x=1pt,y=1pt]
\path[use as bounding box] (0,0) rectangle (918,573);
\begin{axis}[
  at={(73.7pt,54pt)}, anchor=south west,
  scale only axis, width=834.5pt, height=480pt,
  xmin=-0.5, xmax=162.5, ymin=-0.5, ymax=93.5, y dir=reverse,
  xtick={0,20,...,160}, ytick={0,20,...,80},
  tick align=outside, xtick pos=lower, ytick pos=left,
  major tick length=5pt,
  tick style={black!80, line width=0.8pt},
  axis line style={black!75, line width=0.8pt},
  /pgf/number format/assume math mode=true,
  tick label style={font=\fontsize{21.5}{24}\selectfont},
  xticklabel style={yshift=-1pt},
  title={Categorization of Data Cells},
  title style={font=\fontsize{32}{36}\selectfont, yshift=-9pt, xshift=-28pt},
  xlabel={Cell Count \textit{x}-Coordinate},
  ylabel={Cell Count \textit{y}-Coordinate},
  label style={font=\fontsize{23.3}{26}\selectfont},
  xlabel style={yshift=0pt},
  ylabel style={yshift=-2pt},
  legend cell align=left,
  legend image code/.code={\path[draw=none] (0pt,0pt) -- (50pt,0pt);
    \path[draw=none,mark repeat=1,mark phase=1,#1] plot coordinates {(21pt,0pt)};},
  legend style={at={(0.0099,0.983)}, anchor=north west,
    rounded corners=2pt, draw=black!15, line width=0.6pt, fill=white,
    font=\fontsize{16.9}{20}\selectfont, row sep=6.7pt,
    inner xsep=2pt, inner ysep=3pt},
]
\cellplot{7}{ctan}
\cellplot{2}{corange}
\cellplot{0}{cgray}
\cellplot{3}{ctan}
\cellplot{4}{cgreen}
\cellplot{5}{cteal}
\cellplot{1}{cblue}
\cellplot{6}{cdark}
\addlegendimage{only marks, mark=square*, mark size=2.8pt, color=cblue!80!white}
\addlegendentry{Rural drug use}
\addlegendimage{only marks, mark=square*, mark size=2.8pt, color=corange}
\addlegendentry{Outside home users}
\addlegendimage{only marks, mark=square*, mark size=2.8pt, color=ctan}
\addlegendentry{Trio results}
\addlegendimage{only marks, mark=square*, mark size=2.8pt, color=cgreen!80!white}
\addlegendentry{No misusers/overdoses}
\addlegendimage{only marks, mark=square*, mark size=2.8pt, color=cteal}
\addlegendentry{Uninterpreted}
\addlegendimage{only marks, mark=square*, mark size=2.8pt, color=cdark}
\addlegendentry{Empty}
\end{axis}
\end{tikzpicture}
\end{document}
